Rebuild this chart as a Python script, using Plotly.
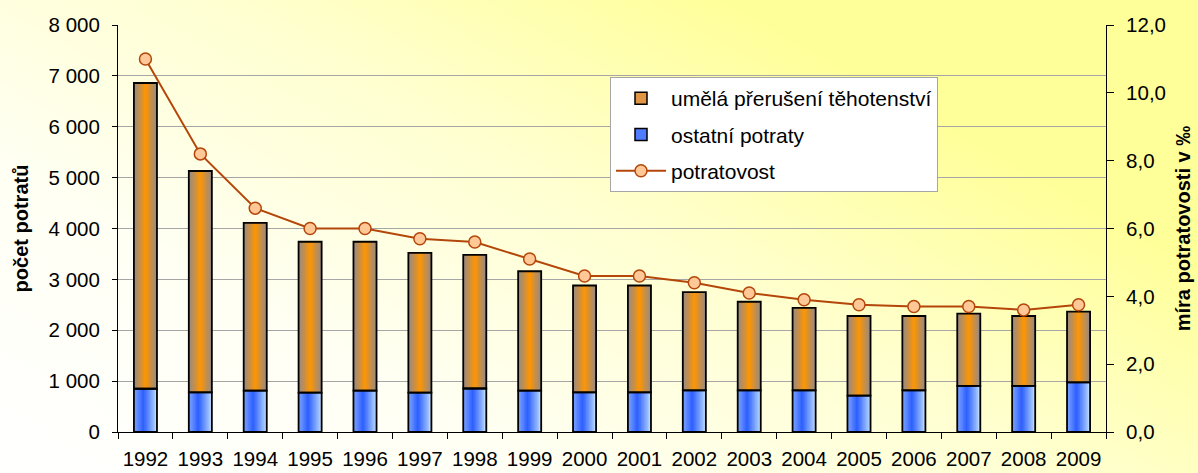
import base64
import plotly.graph_objects as go

# ---------------- data ----------------
years = ["1992", "1993", "1994", "1995", "1996", "1997", "1998", "1999", "2000",
         "2001", "2002", "2003", "2004", "2005", "2006", "2007", "2008", "2009"]
ostatni_potraty = [850, 780, 815, 775, 815, 775, 855, 815, 780,
                   780, 820, 820, 820, 715, 820, 905, 905, 975]
umela_preruseni = [6010, 4350, 3295, 2965, 2925, 2745, 2625, 2345, 2100,
                   2100, 1930, 1740, 1620, 1565, 1460, 1420, 1375, 1390]
potratovost = [11.0, 8.2, 6.6, 6.0, 6.0, 5.7, 5.6, 5.1, 4.6,
               4.6, 4.4, 4.1, 3.9, 3.75, 3.7, 3.7, 3.6, 3.75]

name_umela = "umělá přerušení těhotenství"
name_ostatni = "ostatní potraty"
name_rate = "potratovost"

# ---------------- styles ----------------
FONT = "Liberation Sans, Arial, sans-serif"
BAR_W = 0.42
N_STRIPES = 16


def mix(c1, c2, t):
    return "rgb(%d,%d,%d)" % tuple(round(a + (b - a) * t) for a, b in zip(c1, c2))


def orange_color(s):
    edge, center = (155, 138, 128), (255, 150, 0)
    t = 1 - abs(s - 0.5) * 2
    return mix(edge, center, t ** 1.2)


def blue_color(s):
    left, peak, right = (120, 160, 255), (45, 95, 255), (190, 222, 255)
    if s < 0.4:
        return mix(left, peak, (s / 0.4) ** 1.2)
    return mix(peak, right, ((s - 0.4) / 0.6) ** 1.1)


fig = go.Figure()

# legend entries
fig.add_trace(go.Bar(x=[None], y=[None], name=name_umela, legendgroup="a",
                     marker=dict(color="rgb(225,150,70)", line=dict(color="black", width=1.5))))
fig.add_trace(go.Bar(x=[None], y=[None], name=name_ostatni, legendgroup="b",
                     marker=dict(color="rgb(80,125,255)", line=dict(color="black", width=1.5))))

# gradient stripes
for i in range(N_STRIPES):
    off = -BAR_W / 2 + i * BAR_W / N_STRIPES
    width = BAR_W / 2 - off
    s = (i + 0.5) / N_STRIPES
    fig.add_trace(go.Bar(x=years, y=ostatni_potraty, base=0, offset=off, width=width,
                         marker=dict(color=blue_color(s), line=dict(width=0)),
                         showlegend=False, hoverinfo="skip", legendgroup="b"))
    fig.add_trace(go.Bar(x=years, y=umela_preruseni, base=ostatni_potraty, offset=off, width=width,
                         marker=dict(color=orange_color(s), line=dict(width=0)),
                         showlegend=False, hoverinfo="skip", legendgroup="a"))

# outlines
fig.add_trace(go.Bar(x=years, y=ostatni_potraty, base=0, offset=-BAR_W / 2, width=BAR_W,
                     marker=dict(color="rgba(0,0,0,0)", line=dict(color="black", width=1.8)),
                     showlegend=False, name=name_ostatni, legendgroup="b"))
fig.add_trace(go.Bar(x=years, y=umela_preruseni, base=ostatni_potraty, offset=-BAR_W / 2, width=BAR_W,
                     marker=dict(color="rgba(0,0,0,0)", line=dict(color="black", width=1.8)),
                     showlegend=False, name=name_umela, legendgroup="a"))

# rate line
fig.add_trace(go.Scatter(x=years, y=potratovost, yaxis="y2", name=name_rate, legendgroup="c",
                         mode="lines+markers",
                         line=dict(color="rgb(180,70,10)", width=2),
                         marker=dict(size=12, color="rgb(255,200,150)",
                                     line=dict(color="rgb(180,70,10)", width=1.5))))

# background gradient (SVG)
svg = ('<svg xmlns="http://www.w3.org/2000/svg" width="1198" height="473" preserveAspectRatio="none">'
       '<defs><linearGradient id="g" x1="0" y1="1" x2="1" y2="0.3">'
       '<stop offset="0" stop-color="#FFFFFF"/>'
       '<stop offset="0.3" stop-color="#FFFFF4"/>'
       '<stop offset="0.6" stop-color="#FFFFD0"/>'
       '<stop offset="0.88" stop-color="#FFFF99"/>'
       '<stop offset="1" stop-color="#FFFF99"/>'
       '</linearGradient></defs>'
       '<rect x="0" y="0" width="1198" height="473" fill="url(#g)"/></svg>')
src = "data:image/svg+xml;base64," + base64.b64encode(svg.encode()).decode()

ML, MR, MT, MB = 118, 92, 25, 41
PW, PH = 1198 - ML - MR, 473 - MT - MB

fig.update_layout(
    width=1198, height=473,
    margin=dict(l=ML, r=MR, t=MT, b=MB, autoexpand=False),
    barmode="overlay",
    separators=", ",
    paper_bgcolor="white",
    plot_bgcolor="white",
    font=dict(family=FONT, size=20, color="black"),
    images=[dict(source=src, xref="paper", yref="paper",
                 x=-ML / PW, y=1 + MT / PH, sizex=1198 / PW, sizey=473 / PH,
                 xanchor="left", yanchor="top", sizing="stretch", layer="below")],
    xaxis=dict(type="category", range=[-0.5, len(years) - 0.5], tickson="boundaries",
               ticks="outside", ticklen=6,
               tickcolor="black", showline=True, linecolor="black", linewidth=1,
               showgrid=False, ticklabelstandoff=8, tickangle=0, tickfont=dict(size=20.5)),
    yaxis=dict(range=[0, 8000], dtick=1000, tickformat=",d", ticks="outside", ticklen=5,
               tickcolor="black", showline=True, linecolor="black", linewidth=1,
               showgrid=True, gridcolor="#A6A6A6", gridwidth=1, zeroline=False,
               ticklabelstandoff=8, tickfont=dict(size=20.5),
               title=dict(text="<b>počet potratů</b>", font=dict(size=20), standoff=14)),
    yaxis2=dict(range=[0, 12], dtick=2, tickformat=".1f", overlaying="y", side="right",
                ticks="outside", ticklen=7, tickcolor="black", showline=True,
                linecolor="black", linewidth=1, showgrid=False, zeroline=False,
                ticklabelstandoff=8, tickfont=dict(size=20.5),
                title=dict(text="<b>míra potratovosti v ‰</b>", font=dict(size=20), standoff=10)),
    legend=dict(x=(610 - ML) / PW, y=(432 - 77) / PH, xanchor="left", yanchor="top",
                bgcolor="white", bordercolor="#A6A6A6", borderwidth=1,
                font=dict(size=21), tracegroupgap=6, itemwidth=50, traceorder="grouped"),
    showlegend=True,
)

fig.write_html("out.html", config={"displayModeBar": False},
               post_script="document.body.style.margin='0';document.body.style.overflow='hidden';")
